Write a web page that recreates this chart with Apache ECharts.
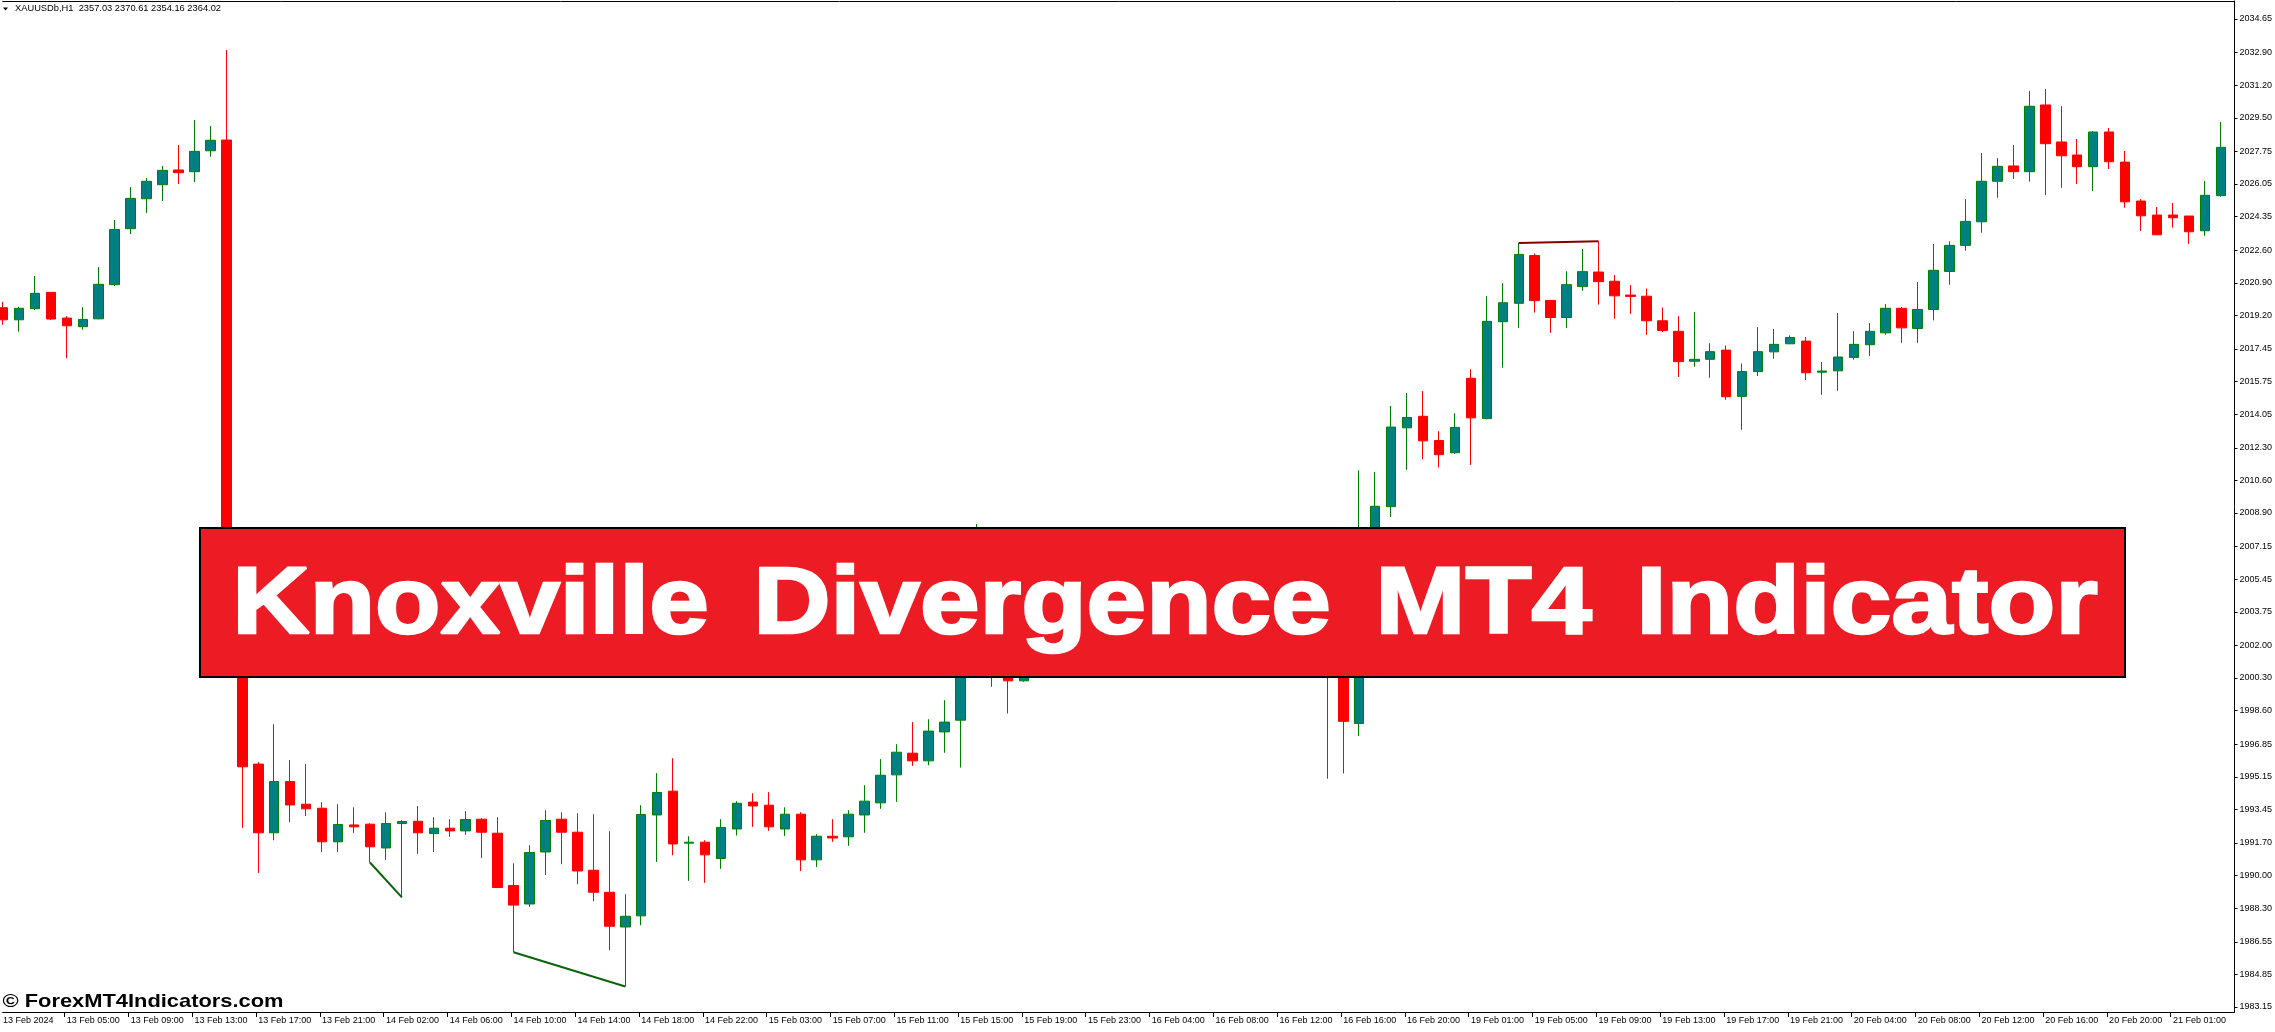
<!DOCTYPE html>
<html><head><meta charset="utf-8">
<script src="https://cdn.jsdelivr.net/npm/echarts@6/dist/echarts.min.js"></script>
<style>html,body{margin:0;padding:0;background:#fff;overflow:hidden}#c{width:2275px;height:1032px}</style>
</head><body><div id="c"></div>
<script>
// XAUUSDb H1, bars from 13 Feb 01:00 to 21 Feb 04:00 (index = bar number)
const opens = [2019.60,2018.97,2019.55,2020.40,2019.06,2018.61,2019.02,2020.80,2023.72,2025.28,
2026.01,2026.78,2026.69,2027.78,2028.34,2004.0,1995.81,1992.23,1994.90,1993.72,
1993.51,1991.76,1992.64,1992.68,1991.44,1992.71,1992.83,1992.19,1992.47,1992.33,
1992.94,1992.21,1989.48,1988.52,1991.23,1992.94,1992.26,1990.28,1989.13,1987.32,
1987.90,1993.16,1994.40,1991.69,1991.74,1990.89,1992.43,1993.83,1993.67,1992.43,
1993.20,1990.82,1992.05,1992.02,1993.16,1993.79,1995.25,1996.38,1995.98,1997.49,
1998.10,2002.1,2005.6,2002.8,2000.15,2002.9,2003.6,2002.9,2003.9,2004.3,
2004.0,2003.4,2003.9,2004.6,2004.2,2003.6,2004.1,2005.2,2004.9,2005.4,
2006.0,2005.5,2006.2,2004.0,2001.0,1997.93,2006.6,2009.23,2013.34,2013.94,
2012.68,2012.04,2015.92,2013.82,2018.87,2019.83,2022.32,2019.98,2019.09,2020.70,
2021.46,2020.98,2020.26,2020.20,2018.92,2018.37,2016.81,2016.91,2017.39,2014.98,
2016.27,2017.30,2017.72,2017.86,2016.24,2016.31,2017.01,2017.67,2018.29,2019.57,
2018.52,2019.51,2021.49,2022.85,2024.08,2026.19,2026.99,2026.69,2030.17,2028.24,
2027.56,2026.95,2028.76,2027.19,2025.16,2024.43,2024.43,2024.38,2023.61,2025.44];
const highs = [2019.91,2019.65,2021.25,2020.42,2019.16,2019.63,2021.72,2024.17,2025.89,2026.36,
2026.99,2028.08,2029.38,2029.07,2033.03,2004.6,1995.91,1997.89,1996.02,1995.81,
1993.83,1993.72,1993.56,1992.73,1993.30,1992.89,1993.63,1993.04,1992.94,1993.36,
1992.99,1993.04,1990.64,1991.58,1993.41,1993.30,1993.25,1993.20,1992.31,1989.03,
1993.67,1995.34,1996.12,1992.05,1991.84,1992.94,1993.88,1994.29,1994.35,1993.56,
1993.30,1992.16,1992.94,1993.41,1994.71,1996.07,1996.85,1998.00,1998.15,1999.14,
2003.0,2008.32,2008.1,2004.0,2003.5,2004.2,2005.0,2004.4,2004.8,2005.1,
2004.6,2004.2,2004.9,2005.3,2004.7,2004.5,2005.6,2006.0,2005.7,2006.4,
2006.9,2006.6,2008.15,2004.8,2001.6,2011.12,2011.03,2014.48,2015.15,2015.25,
2013.16,2014.10,2016.39,2020.20,2020.88,2022.98,2022.42,2019.98,2021.50,2022.66,
2023.06,2021.30,2020.78,2020.60,2019.61,2019.16,2019.37,2017.75,2017.63,2016.69,
2018.59,2018.49,2018.16,2018.07,2016.77,2019.32,2018.38,2018.80,2019.79,2019.63,
2020.94,2022.92,2023.06,2025.26,2027.66,2027.40,2028.08,2030.90,2031.00,2030.11,
2028.39,2028.81,2028.97,2027.77,2025.26,2024.85,2025.06,2024.38,2026.20,2029.28];
const lows = [2018.71,2018.35,2019.48,2018.96,2016.97,2018.45,2019.00,2020.73,2023.44,2024.53,
2025.16,2026.05,2026.15,2027.47,2003.2,1992.49,1990.14,1991.84,1992.78,1993.10,
1991.22,1991.22,1992.21,1990.68,1990.82,1988.86,1991.13,1991.23,1992.02,1992.12,
1990.92,1989.34,1986.00,1988.37,1990.03,1990.59,1989.55,1988.66,1986.11,1984.22,
1987.41,1990.71,1991.06,1989.72,1989.62,1990.35,1992.09,1992.54,1992.33,1992.07,
1990.24,1990.45,1991.76,1991.55,1992.23,1993.48,1993.84,1995.72,1995.75,1996.40,
1995.63,2001.5,1999.84,1998.45,2000.10,2001.8,2002.7,2002.1,2003.0,2003.6,
2003.1,2002.8,2003.5,2004.0,2003.3,2003.0,2003.8,2004.6,2004.1,2005.0,
2005.2,2004.8,2003.5,1995.05,1995.32,1997.28,2005.8,2008.69,2011.15,2011.70,
2011.27,2011.98,2011.41,2013.78,2016.47,2018.55,2019.35,2018.29,2018.55,2020.48,
2019.76,2019.03,2019.28,2018.19,2018.33,2015.99,2016.53,2015.95,2014.80,2013.24,
2016.04,2016.94,2017.70,2015.83,2015.06,2015.27,2016.89,2017.09,2018.19,2017.77,
2017.77,2018.94,2020.80,2022.57,2023.51,2025.33,2026.31,2026.17,2025.47,2025.85,
2026.05,2025.68,2026.83,2024.81,2023.60,2023.40,2023.77,2022.93,2023.35,2025.39];
const closes = [2018.97,2019.57,2020.35,2019.01,2018.66,2018.99,2020.82,2023.68,2025.30,2026.19,
2026.76,2026.64,2027.75,2028.33,2004.0,1995.67,1992.23,1994.90,1993.68,1993.48,
1991.76,1992.66,1992.54,1991.50,1992.71,1992.82,1992.23,1992.47,1992.33,1992.92,
1992.26,1989.38,1988.46,1991.20,1992.87,1992.26,1990.24,1989.13,1987.36,1987.88,
1993.18,1994.33,1991.65,1991.74,1991.08,1992.51,1993.77,1993.63,1992.54,1993.20,
1990.82,1992.05,1991.96,1993.20,1993.88,1995.23,1996.43,1995.98,1997.53,1998.00,
2002.1,2005.6,2002.8,2000.15,2002.9,2003.6,2002.9,2003.9,2004.3,2004.0,
2003.4,2003.9,2004.6,2004.2,2003.6,2004.1,2005.2,2004.9,2005.4,2006.0,
2005.5,2006.2,2004.0,2001.0,1998.04,2006.6,2009.25,2013.38,2013.88,2012.66,
2011.94,2013.36,2013.86,2018.89,2019.86,2022.38,2019.97,2019.09,2020.80,2021.48,
2020.96,2020.22,2020.19,2018.92,2018.41,2016.79,2016.91,2017.31,2014.96,2016.27,
2017.31,2017.69,2018.05,2016.21,2016.30,2017.03,2017.69,2018.37,2019.57,2018.55,
2019.51,2021.55,2022.85,2024.10,2026.19,2026.97,2026.69,2030.10,2028.15,2027.52,
2026.95,2028.76,2027.21,2025.12,2024.39,2023.40,2024.29,2023.56,2025.46,2027.96];

const yTickLabels = ['2034.65','2032.90','2031.20','2029.50','2027.75','2026.05','2024.35','2022.60','2020.90','2019.20',
'2017.45','2015.75','2014.05','2012.30','2010.60','2008.90','2007.15','2005.45','2003.75','2002.00',
'2000.30','1998.60','1996.85','1995.15','1993.45','1991.70','1990.00','1988.30','1986.55','1984.85','1983.15'];
const xTickLabels = ['13 Feb 2024','13 Feb 05:00','13 Feb 09:00','13 Feb 13:00','13 Feb 17:00','13 Feb 21:00',
'14 Feb 02:00','14 Feb 06:00','14 Feb 10:00','14 Feb 14:00','14 Feb 18:00','14 Feb 22:00',
'15 Feb 03:00','15 Feb 07:00','15 Feb 11:00','15 Feb 15:00','15 Feb 19:00','15 Feb 23:00',
'16 Feb 04:00','16 Feb 08:00','16 Feb 12:00','16 Feb 16:00','16 Feb 20:00',
'19 Feb 01:00','19 Feb 05:00','19 Feb 09:00','19 Feb 13:00','19 Feb 17:00','19 Feb 21:00',
'20 Feb 04:00','20 Feb 08:00','20 Feb 12:00','20 Feb 16:00','20 Feb 20:00','21 Feb 01:00'];
const barsPerXTick = 4;
// divergence lines: [fromBar, toBar, 'low'|'high']
const divergences = [[23, 25, 'low'], [32, 39, 'low'], [95, 100, 'high']];
const headerText = 'XAUUSDb,H1  2357.03 2370.61 2354.16 2364.02';
const bannerWords = ['Knoxville', 'Divergence', 'MT4', 'Indicator'];
const watermarkText = '\u00A9 ForexMT4Indicators.com';

// ---- layout (pixels) ----
const bannerWordSpans = [[231, 710], [752, 1332], [1374, 1593], [1635, 2099]];
const FONT = '"Liberation Sans", Arial, sans-serif';
const mctx = document.createElement('canvas').getContext('2d');
function textWidth(t, font) { mctx.font = font; return mctx.measureText(t).width; }

const candleData = opens.map((o, i) => [i, o, closes[i], lows[i], highs[i]]);
const xTickBars = xTickLabels.map((_, i) => i * barsPerXTick);
const yTickValues = yTickLabels.map(Number);
const xMin = -0.019, xMax = 139.856;
const yMin = 1982.889, yMax = 2035.588;

const divSeries = divergences.map(([a, b, side]) => ({
  type: 'line', symbol: 'none', z: 5, silent: true,
  lineStyle: { color: side === 'low' ? '#0a640a' : '#800000', width: 2 },
  data: [[a, side === 'low' ? lows[a] : highs[a]], [b, side === 'low' ? lows[b] : highs[b]]]
}));

const bannerFont = 'bold 94px ' + FONT;
const bannerStroke = 2.5;
const bannerGraphics = bannerWords.map((w, i) => {
  const [x0, x1] = bannerWordSpans[i];
  const sx = (x1 - x0 - bannerStroke) / textWidth(w, bannerFont);
  return { type: 'text', z: 101, x: x0 + bannerStroke / 2, y: 606.9, scaleX: sx,
    style: { text: w, font: bannerFont, fill: '#fff', stroke: '#fff', lineWidth: bannerStroke, lineJoin: 'miter',
      textAlign: 'left', textVerticalAlign: 'middle', align: 'left', verticalAlign: 'middle' } };
});
const wmFont = 'bold 19px ' + FONT;
const wmScale = 281 / textWidth(watermarkText, wmFont);
const hdFont = '9.5px ' + FONT;
const hdScale = 206 / textWidth(headerText, hdFont);

const chart = echarts.init(document.getElementById('c'), null, { renderer: 'canvas' });
chart.setOption({
  animation: false,
  backgroundColor: '#ffffff',
  grid: { left: 0, right: 37, top: 1, bottom: 20, containLabel: false },
  xAxis: [{
    type: 'value', min: xMin, max: xMax, position: 'bottom',
    axisLine: { show: true, onZero: false, lineStyle: { color: '#000', width: 1 } },
    axisTick: { show: true, customValues: xTickBars.map(v => v - 0.14), length: 5, lineStyle: { color: '#000' } },
    axisLabel: { show: true, customValues: xTickBars, align: 'left', margin: 4, color: '#000',
      fontFamily: FONT, fontSize: 9,
      formatter: v => xTickLabels[Math.round(v / barsPerXTick)] },
    splitLine: { show: false }
  }, {
    type: 'value', min: xMin, max: xMax, position: 'top',
    axisLine: { show: true, onZero: false, lineStyle: { color: '#000', width: 1 } },
    axisTick: { show: false }, axisLabel: { show: false }, splitLine: { show: false }
  }],
  yAxis: {
    type: 'value', min: yMin, max: yMax, position: 'right', scale: true,
    axisLine: { show: true, onZero: false, lineStyle: { color: '#000', width: 1 } },
    axisTick: { show: true, customValues: yTickValues, length: 3, lineStyle: { color: '#000' } },
    axisLabel: { show: true, customValues: yTickValues, align: 'left', margin: 5, color: '#000',
      fontFamily: FONT, fontSize: 9,
      formatter: v => yTickLabels[yTickValues.indexOf(v)] },
    splitLine: { show: false }
  },
  series: [{
    type: 'candlestick', barWidth: 10, clip: true,
    encode: { x: 0, y: [1, 2, 3, 4] },
    itemStyle: { color: '#008080', color0: '#ff0000', borderColor: '#008000', borderColor0: '#ff0000', borderWidth: 1 },
    data: candleData
  }].concat(divSeries),
  graphic: [
    { type: 'polygon', z: 100, shape: { points: [[3, 7.5], [8, 7.5], [5.5, 10.5]] }, style: { fill: '#000' } },
    { type: 'text', z: 100, x: 15, y: 8.5, scaleX: hdScale,
      style: { text: headerText, font: hdFont, fill: '#000', textAlign: 'left', textVerticalAlign: 'middle', align: 'left', verticalAlign: 'middle' } },
    { type: 'rect', z: 100, shape: { x: 200, y: 528, width: 1925, height: 149 },
      style: { fill: '#ED1C24', stroke: '#000', lineWidth: 2 } },
    { type: 'text', z: 101, x: 2.5, y: 1001.7, scaleX: wmScale,
      style: { text: watermarkText, font: wmFont, fill: '#000', textAlign: 'left', textVerticalAlign: 'middle', align: 'left', verticalAlign: 'middle' } }
  ].concat(bannerGraphics)
});
</script></body></html>
